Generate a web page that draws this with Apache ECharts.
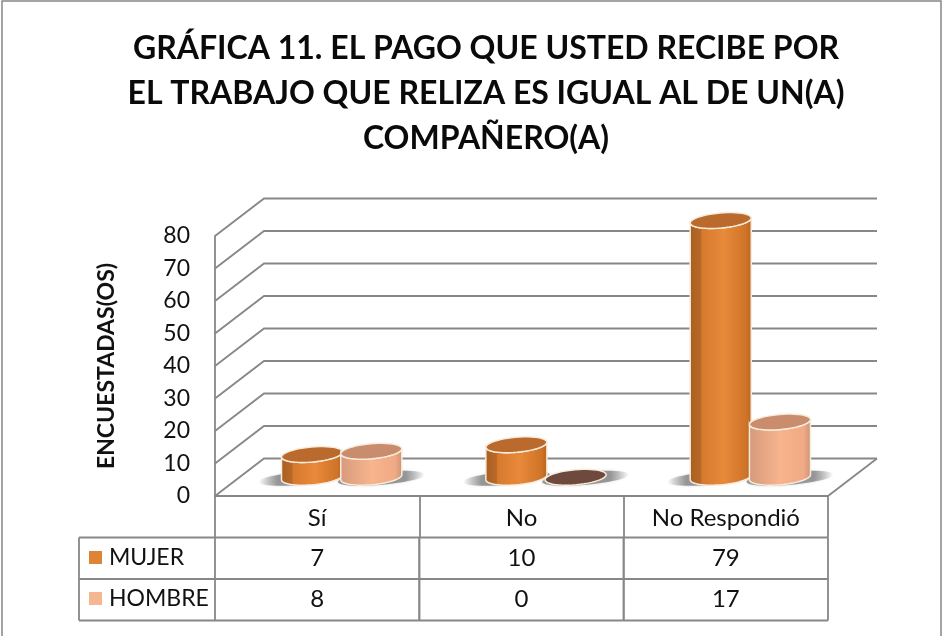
<!DOCTYPE html>
<html>
<head>
<meta charset="utf-8">
<style>html,body{margin:0;padding:0;background:#fff}#c{width:942px;height:636px}</style>
<script src="https://cdn.jsdelivr.net/npm/echarts@6/dist/echarts.min.js"></script>
</head>
<body>
<div id="c"></div>
<script>
const chartTitle = 'GRÁFICA 11. EL PAGO QUE USTED RECIBE POR\nEL TRABAJO QUE RELIZA ES IGUAL AL DE UN(A)\nCOMPAÑERO(A)';
const yAxisName = 'ENCUESTADAS(OS)';
const categories = ['Sí', 'No', 'No Respondió'];
const mujer = [7, 10, 79];
const hombre = [8, 0, 17];
const yTicks = [0, 10, 20, 30, 40, 50, 60, 70, 80];

const FONT = 'Lato, Carlito, Calibri, "Open Sans", sans-serif';
const GRID = '#878787';
const DX = 49, DY = -37.5;          // depth of the pseudo-3D box
const ROW = 41.5;                   // data-table row height
const TILT = -5 * Math.PI / 180;

const chart = echarts.init(document.getElementById('c'));

function ell(cx, cy, rx, ry, a0, a1, n) {
  const pts = [];
  for (let k = 0; k <= n; k++) {
    const t = a0 + (a1 - a0) * k / n;
    const x = rx * Math.cos(t), y = ry * Math.sin(t);
    pts.push([cx + x * Math.cos(TILT) - y * Math.sin(TILT), cy + x * Math.sin(TILT) + y * Math.cos(TILT)]);
  }
  return pts;
}

function cylinder(side, pal) {
  return function (params, api) {
    const i = api.value(0), v = api.value(1);
    const band = api.size([1, 0])[0];
    const sep = band * 0.145, rx = band * 0.15, ry = 7.5;
    const cx = api.coord([i, 0])[0] + DX / 2 + side * sep;
    const yb = api.coord([i, 0])[1] + DY / 2;
    const yt = api.coord([i, v])[1] + DY / 2;
    const children = [];
    const sc = 'rgba(125,125,125,';
    children.push({
      type: 'polygon', z2: 1, silent: true,
      shape: { points: ell(cx + side * 10, yb + 1, rx + 13, ry - 1, 0, Math.PI * 2, 48) },
      style: {
        fill: { type: 'linear', x: 0, y: 0, x2: 1, y2: 0, colorStops: side < 0
          ? [{ offset: 0, color: sc + '0)' }, { offset: 0.22, color: sc + '0.75)' }, { offset: 1, color: sc + '0.75)' }]
          : [{ offset: 0, color: sc + '0.75)' }, { offset: 0.78, color: sc + '0.75)' }, { offset: 1, color: sc + '0)' }] },
        shadowBlur: 3, shadowColor: sc + '0.35)'
      }
    });
    if (v > 0) {
      const outline = ell(cx, yb, rx, ry, 0, Math.PI, 30)
        .concat(ell(cx, yt, rx, ry, Math.PI, 0, 30));
      children.push({
        type: 'polygon', z2: 10 + (side > 0 ? 2 : 0),
        shape: { points: outline },
        style: {
          fill: { type: 'linear', x: 0, y: 0, x2: 1, y2: 0, colorStops: pal.body },
          stroke: pal.edge, lineWidth: 1.5
        }
      });
    }
    children.push({
      type: 'polygon', z2: 11 + (side > 0 ? 2 : 0),
      shape: { points: ell(cx, yt, rx, ry, 0, Math.PI * 2, 48) },
      style: { fill: v > 0 ? pal.top : pal.zero, stroke: pal.edge, lineWidth: 1.5 }
    });
    return { type: 'group', children };
  };
}

function renderWalls(params, api) {
  const t = api.value(1);
  const cs = params.coordSys;
  const y = api.coord([0, t])[1];
  const x0 = cs.x, x1 = cs.x + cs.width;
  const ls = { stroke: GRID, lineWidth: 1.8, fill: null };
  const children = [{
    type: 'polyline', silent: true,
    shape: { points: [[x0, y], [x0 + DX, y + DY], [x1 + DX, y + DY]] },
    style: ls
  }];
  if (t === 0) {
    children.push({ type: 'line', silent: true, shape: { x1: x1, y1: y, x2: x1 + DX, y2: y + DY }, style: ls });
  }
  return { type: 'group', children };
}

function cellText(text, x, y) {
  return {
    type: 'text', silent: true,
    style: { text: String(text), x, y, fill: '#111', font: '24px ' + FONT, textAlign: 'center', textVerticalAlign: 'middle' }
  };
}

function renderTable(params, api) {
  const i = api.value(0);
  const band = api.size([1, 0])[0];
  const [cx, y0] = api.coord([i, 0]);
  const ls = { stroke: GRID, lineWidth: 1.8 };
  const left = cx - band / 2, right = cx + band / 2;
  const r1 = y0 + ROW, r2 = y0 + ROW * 2, r3 = y0 + ROW * 3;
  const line = (a, b, c, d) => ({ type: 'line', silent: true, shape: { x1: a, y1: b, x2: c, y2: d }, style: ls });
  const children = [
    line(left, r1, right, r1), line(left, r2, right, r2), line(left, r3, right, r3),
    line(right, r1, right, r3), line(left, r1, left, r3),
    cellText(mujer[i], cx, r1 + ROW / 2),
    cellText(hombre[i], cx, r2 + ROW / 2)
  ];
  if (i === 0) {
    const lx = left - 136;
    children.push(line(lx, r1, left, r1), line(lx, r2, left, r2), line(lx, r3, left, r3), line(lx, r1, lx, r3));
  }
  return { type: 'group', children };
}

const palMujer = {
  body: [
    { offset: 0, color: '#a9601f' }, { offset: 0.18, color: '#b9682a' }, { offset: 0.2, color: '#d67a2e' },
    { offset: 0.55, color: '#e9893a' }, { offset: 0.9, color: '#cf7428' }, { offset: 1, color: '#b5651f' }
  ],
  top: '#b96a2c', zero: '#6e4a3e', edge: '#f7ecdc'
};
const palHombre = {
  body: [
    { offset: 0, color: '#d59a7c' }, { offset: 0.5, color: '#f7b48d' }, { offset: 0.88, color: '#f0aa85' }, { offset: 1, color: '#c99277' }
  ],
  top: '#c98d6d', zero: '#6e4a3e', edge: '#f7ecdc'
};

chart.setOption({
  animation: false,
  backgroundColor: '#fff',
  title: {
    text: chartTitle, left: 481, top: 21, textAlign: 'center',
    textStyle: { fontFamily: FONT, fontWeight: 'bold', fontSize: 32, lineHeight: 45, color: '#0a0a0a' }
  },
  grid: { left: 215, top: 236, width: 613, height: 260, containLabel: false },
  legend: {
    data: ['MUJER', 'HOMBRE'], orient: 'vertical', left: 89, top: 546,
    icon: 'rect', itemWidth: 13, itemHeight: 13, itemGap: 18, padding: 0, selectedMode: false,
    textStyle: { fontFamily: FONT, fontSize: 23, color: '#111', padding: [0, 0, 0, 2] }
  },
  xAxis: {
    type: 'category', data: categories,
    axisLine: { lineStyle: { color: GRID, width: 1.8 } },
    axisTick: { show: true, length: ROW, lineStyle: { color: GRID, width: 1.8 } },
    axisLabel: { fontFamily: FONT, fontSize: 24, color: '#111', margin: 10 }
  },
  yAxis: {
    type: 'value', min: 0, max: 80, interval: 10,
    name: yAxisName, nameLocation: 'middle', nameGap: 97,
    nameTextStyle: { fontFamily: FONT, fontWeight: 'bold', fontSize: 23, color: '#111' },
    axisLine: { show: true, lineStyle: { color: GRID, width: 1.8 } },
    axisTick: { show: false },
    splitLine: { show: false },
    axisLabel: { fontFamily: FONT, fontSize: 23, color: '#111', margin: 25,
      customValues: yTicks }
  },
  graphic: [{
    type: 'rect', silent: true,
    shape: { x: 2, y: 1, width: 939, height: 645 },
    style: { fill: 'transparent', stroke: GRID, lineWidth: 1.5 }
  }],
  series: [
    { name: 'walls', type: 'custom', coordinateSystem: 'cartesian2d', z: 1, silent: true,
      data: yTicks.map(t => [0, t]), renderItem: renderWalls, encode: { x: 0, y: 1 } },
    { name: 'MUJER', type: 'custom', coordinateSystem: 'cartesian2d', z: 3, itemStyle: { color: '#dd8437' },
      data: mujer.map((v, i) => [i, v]), renderItem: cylinder(-1, palMujer), encode: { x: 0, y: 1 } },
    { name: 'HOMBRE', type: 'custom', coordinateSystem: 'cartesian2d', z: 3, itemStyle: { color: '#f7b692' },
      data: hombre.map((v, i) => [i, v]), renderItem: cylinder(1, palHombre), encode: { x: 0, y: 1 } },
    { name: 'table', type: 'custom', coordinateSystem: 'cartesian2d', z: 2, silent: true,
      data: categories.map((c, i) => [i, 0]), renderItem: renderTable, encode: { x: 0, y: 1 } }
  ]
});
</script>
</body>
</html>
